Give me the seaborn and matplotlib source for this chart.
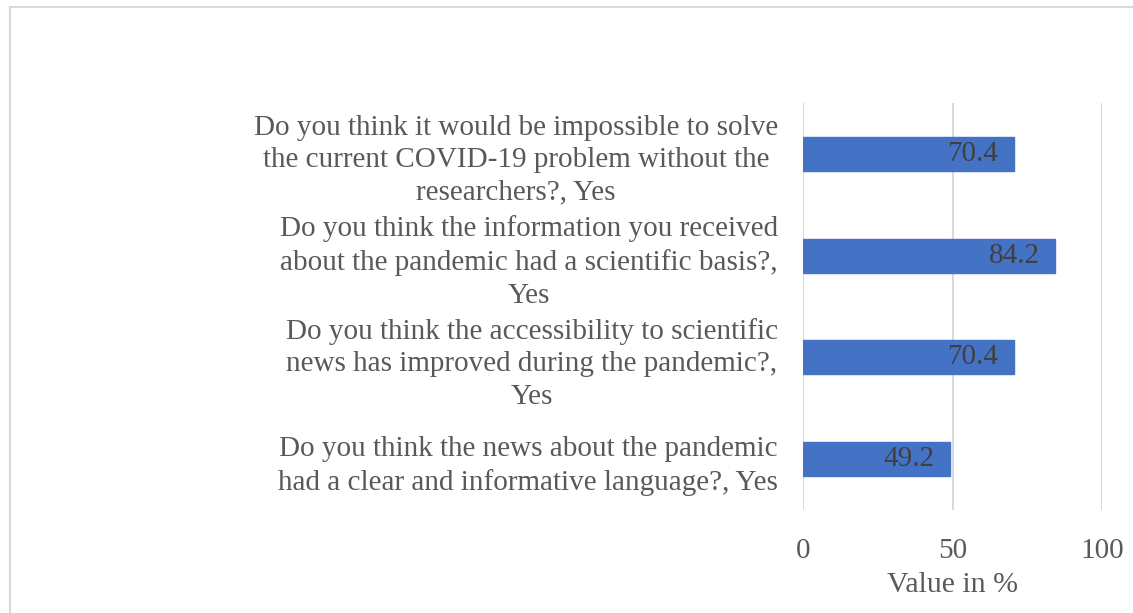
import matplotlib
matplotlib.use("Agg")
import matplotlib.pyplot as plt
import seaborn as sns
import pandas as pd
from matplotlib.lines import Line2D

questions = [
    "Do you think it would be impossible to solve\nthe current COVID-19 problem without the\nresearchers?, Yes",
    "Do you think the information you received\nabout the pandemic had a scientific basis?,\nYes",
    "Do you think the accessibility to scientific\nnews has improved during the pandemic?,\nYes",
    "Do you think the news about the pandemic\nhad a clear and informative language?, Yes",
]
values = [70.4, 84.2, 70.4, 49.2]
x_ticks = [0, 50, 100]

sns.set_theme(style="white")
plt.rcParams["font.family"] = ["Liberation Serif", "DejaVu Serif"]

df = pd.DataFrame({"Question": questions, "Value": values})

fig = plt.figure(figsize=(11.33, 6.13), dpi=100)
ax = fig.add_axes([0.7087, 0.168, 0.2640, 0.664])

sns.barplot(data=df, y="Question", x="Value", orient="h", color="#4472C4",
            saturation=1, width=0.335, ax=ax, edgecolor="#4472C4")

ax.set_xlim(0, 100)
ax.set_xticks(x_ticks)
ax.xaxis.grid(True, color="#D9D9D9", linewidth=1.5)
ax.set_axisbelow(True)
for s in ax.spines.values():
    s.set_visible(False)

ax.tick_params(axis="x", length=0, pad=20, labelsize=21, labelcolor="#595959")
ax.tick_params(axis="y", length=0, pad=18, labelsize=21, labelcolor="#595959")
for lbl in ax.get_yticklabels():
    lbl.set_multialignment("center")
    lbl.set_linespacing(1.33)

ax.set_ylabel("")
ax.set_xlabel("Value in %", fontsize=21.5, color="#595959", labelpad=6)

for p, v in zip(ax.patches, values):
    y = p.get_y() + p.get_height() / 2
    ax.annotate(f"{v}", xy=(p.get_width(), y), xytext=(-11, 0),
                textcoords="offset points", ha="right", va="center",
                fontsize=21, color="#404040")

# figure frame (left and top edges visible)
fig.add_artist(Line2D([9.5 / 1133, 9.5 / 1133], [0, 1 - 6.5 / 613],
                      transform=fig.transFigure, color="#D9D9D9", linewidth=1.5))
fig.add_artist(Line2D([9.5 / 1133, 1], [1 - 6.5 / 613, 1 - 6.5 / 613],
                      transform=fig.transFigure, color="#D9D9D9", linewidth=1.5))

fig.savefig("out.png", dpi=100)
